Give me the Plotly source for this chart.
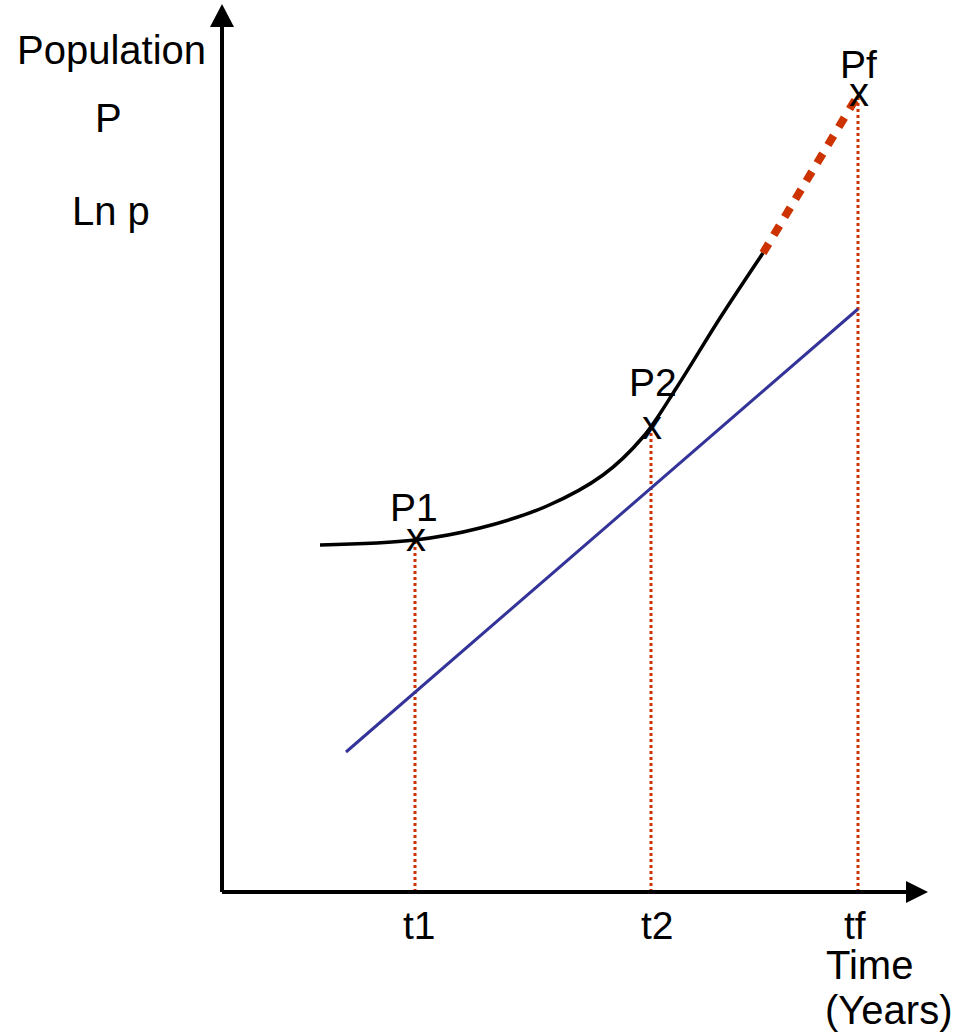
import plotly.graph_objects as go

# ---- data (units: time / population) ----
t_labels = ["t1", "t2", "tf"]
p_labels = ["P1", "P2", "Pf"]
t_points = [19.3, 42.9, 63.6]
p_points = [35.2, 46.4, 79.7]

curve_t = [9.8, 19.3, 25.8, 32.5, 38.1, 42.1, 45.5, 49.8, 54.1]
curve_p = [34.7, 35.2, 36.4, 38.6, 41.7, 45.5, 50.5, 57.4, 63.9]

extrap_t = [54.1, 63.3]
extrap_p = [63.9, 79.2]

ln_t = [12.4, 63.6]
ln_p = [14.0, 58.3]

x_axis_end = 68.4
y_axis_end = 86.5

RED = "#CC3300"
BLUE = "#333399"
FONT = "Liberation Sans, Arial, sans-serif"
FS = 39

fig = go.Figure()

# vertical dotted guides
for t, p in zip(t_points, p_points):
    fig.add_trace(go.Scatter(x=[t, t], y=[0, p], mode="lines",
                             line=dict(color=RED, width=3, dash="3px,3px"),
                             hoverinfo="skip", showlegend=False))

# ln p straight line
fig.add_trace(go.Scatter(x=ln_t, y=ln_p, mode="lines",
                         line=dict(color=BLUE, width=3), showlegend=False))

# population curve
fig.add_trace(go.Scatter(x=curve_t, y=curve_p, mode="lines",
                         line=dict(color="black", width=3.5, shape="spline", smoothing=1.0),
                         showlegend=False))

# extrapolation
fig.add_trace(go.Scatter(x=extrap_t, y=extrap_p, mode="lines",
                         line=dict(color=RED, width=8, dash="11px,10px"),
                         showlegend=False))

# axes lines
fig.add_trace(go.Scatter(x=[0, x_axis_end], y=[0, 0], mode="lines",
                         line=dict(color="black", width=4), showlegend=False))
fig.add_trace(go.Scatter(x=[0, 0], y=[0, y_axis_end], mode="lines",
                         line=dict(color="black", width=4), showlegend=False))

# arrow heads
fig.add_shape(type="path", xref="x", yref="y",
              path=f"M -1.2,{y_axis_end} L 1.2,{y_axis_end} L 0,{y_axis_end + 2.3} Z",
              fillcolor="black", line=dict(width=0))
fig.add_shape(type="path", xref="x", yref="y",
              path=f"M {x_axis_end},1.1 L {x_axis_end},-1.1 L {x_axis_end + 2.2},0 Z",
              fillcolor="black", line=dict(width=0))

ann = []
# x marks and point labels
label_shift = [33, 46, 31]
label_xshift = [-1, 2, 0]
for t, p, lab, ys, xs in zip(t_points, p_points, p_labels, label_shift, label_xshift):
    ann.append(dict(x=t, y=p, text="x", showarrow=False, xanchor="center", yanchor="middle",
                    yshift=3.5, xshift=1, font=dict(family=FONT, size=40, color="black")))
    ann.append(dict(x=t, y=p, text=lab, showarrow=False, xanchor="center", yanchor="middle",
                    yshift=ys, xshift=xs, font=dict(family=FONT, size=FS, color="black")))
# time tick labels
for t, lab, xs in zip(t_points, t_labels, [4, 6, -3]):
    ann.append(dict(x=t, y=0, text=lab, showarrow=False, xanchor="center", yanchor="middle",
                    yshift=-33, xshift=xs, font=dict(family=FONT, size=FS, color="black")))

# axis titles
for txt, x, y in [("Population", -11.1, 84.2), ("P", -11.4, 77.4), ("Ln p", -11.1, 68.1),
                  ("Time", 64.7, -7.3), ("(Years)", 66.6, -11.8)]:
    ann.append(dict(x=x, y=y, text=txt, showarrow=False, xanchor="center", yanchor="middle",
                    font=dict(family=FONT, size=40, color="black")))

fig.update_layout(
    width=958, height=1035,
    margin=dict(l=0, r=0, t=0, b=0),
    paper_bgcolor="white", plot_bgcolor="white",
    xaxis=dict(range=[-22.2, 73.6], visible=False, fixedrange=True),
    yaxis=dict(range=[-14.3, 89.2], visible=False, fixedrange=True),
    annotations=ann,
    showlegend=False,
)

fig.write_html("out.html", config={"displayModeBar": False},
               post_script="document.body.style.margin='0';document.body.style.overflow='hidden';")
